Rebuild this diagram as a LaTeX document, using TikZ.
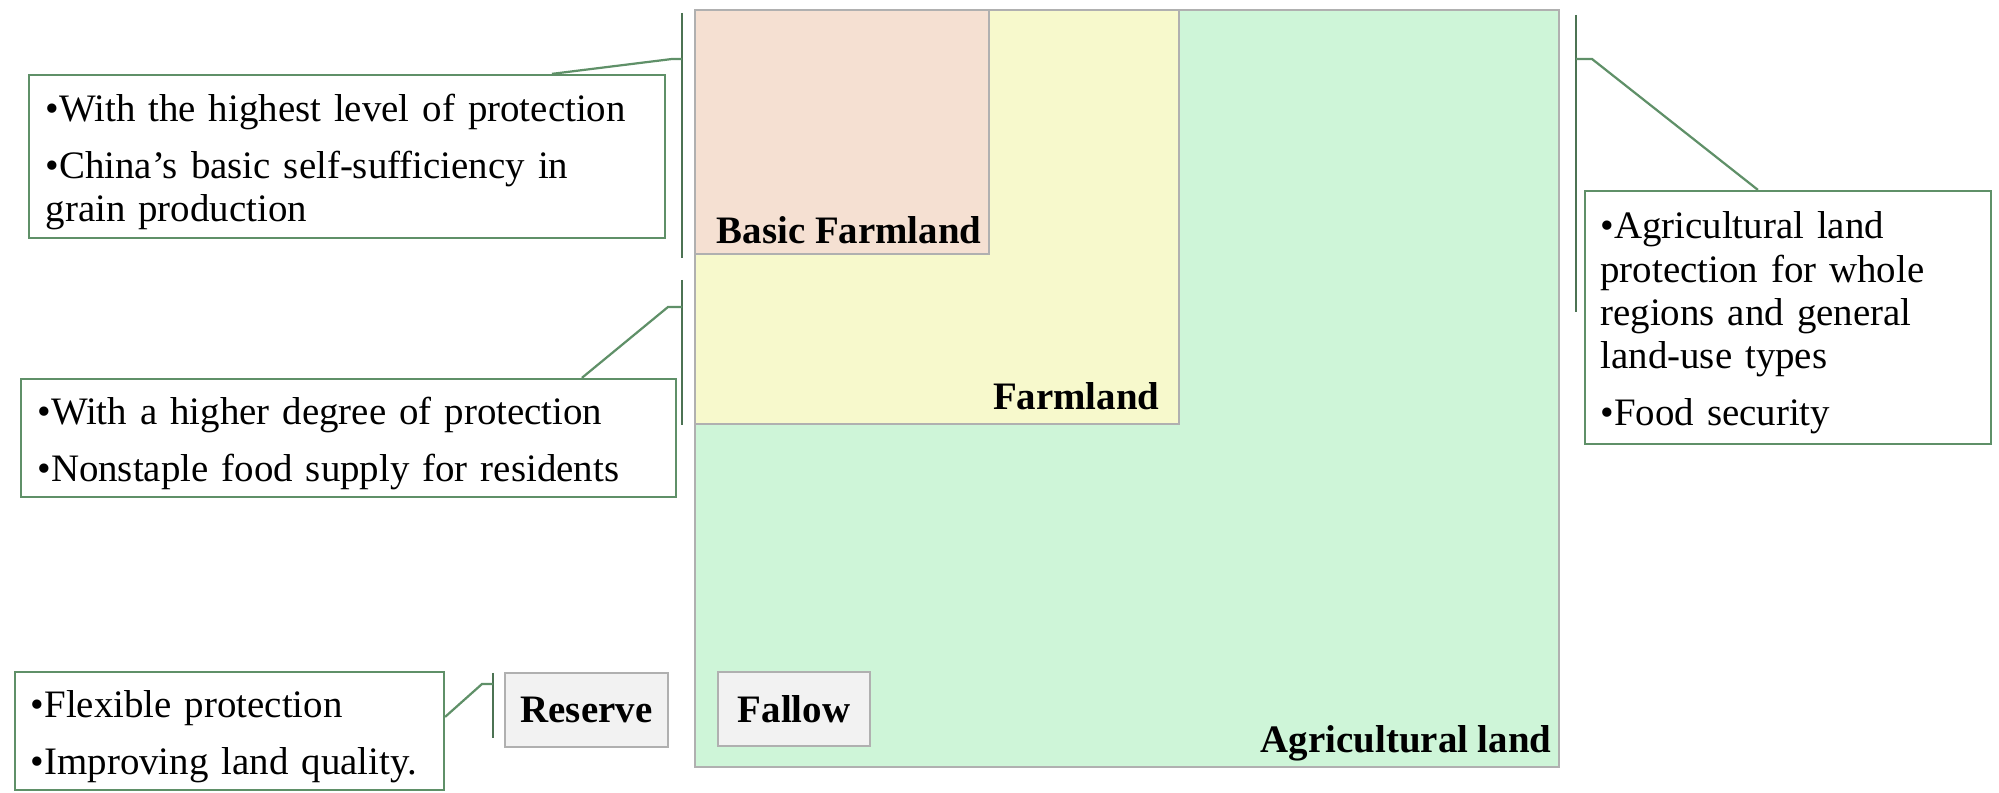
\documentclass[tikz,border=0pt]{standalone}
\usepackage{fontspec}
\setmainfont{Liberation Serif}
\usetikzlibrary{calc}
\definecolor{agfill}{HTML}{CEF5D8}
\definecolor{farmfill}{HTML}{F7F9CC}
\definecolor{basicfill}{HTML}{F5E0D2}
\definecolor{regborder}{HTML}{B0B0B0}
\definecolor{callgreen}{HTML}{5F9068}
\definecolor{greyfill}{HTML}{F2F2F2}
\tikzset{
  region/.style={draw=regborder, line width=0.8pt, inner sep=0pt},
  lbl/.style={font=\fontsize{14}{16}\selectfont\bfseries, inner sep=0pt},
  greybox/.style={draw=regborder, fill=greyfill, line width=0.8pt, font=\fontsize{14}{16}\selectfont\bfseries},
  callout/.style={draw=callgreen, fill=white, line width=0.8pt, inner sep=0pt},
  callouttext/.style={align=left, inner sep=0pt, yshift=-2pt,
    font=\fontsize{14}{15.6}\selectfont},
  conn/.style={draw=callgreen, line width=0.8pt},
  brk/.style={draw=callgreen!80!black, line width=0.8pt},
}
\begin{document}
\begin{tikzpicture}[x=0.36pt,y=-0.36pt]
\useasboundingbox (0,0) rectangle (1999,793);
% regions
\node[region, fill=agfill, minimum width=311.04pt, minimum height=272.52pt] (ag) at (1127,388.5) {};
\node[region, fill=farmfill, minimum width=174.24pt, minimum height=149.04pt] (farm) at (937,217) {};
\node[region, fill=basicfill, minimum width=105.84pt, minimum height=87.84pt] (basic) at (842,132) {};
\node[lbl, anchor=base east] (basiclbl) at (982,244) {Basic Farmland};
\node[lbl, anchor=base east] (farmlbl) at (1160,410) {Farmland};
\node[lbl, anchor=base east] (aglbl) at (1552,752) {Agricultural land};
\node[greybox, minimum width=54.72pt, minimum height=26.64pt] (fallow) at (794,709) {Fallow};
\node[greybox, minimum width=58.68pt, minimum height=26.64pt] (reserve) at (586.5,710) {Reserve};
% callouts
\node[callout, minimum width=228.96pt, minimum height=58.68pt] (box1) at (347,156.5) {};
\node[callouttext, text width=217pt] (box1txt) at (box1.center)
  {\textbullet With the highest level of protection\\[5pt]
   \textbullet China’s basic self-sufficiency in\\ grain production};
\node[callout, minimum width=235.8pt, minimum height=42.48pt] (box2) at (348.5,438) {};
\node[callouttext, text width=224pt] (box2txt) at (box2.center)
  {\textbullet With a higher degree of protection\\[5pt]
   \textbullet Nonstaple food supply for residents};
\node[callout, minimum width=154.44pt, minimum height=42.48pt] (box3) at (229.5,731) {};
\node[callouttext, text width=143pt] (box3txt) at (box3.center)
  {\textbullet Flexible protection\\[5pt]
   \textbullet Improving land quality.};
\node[callout, minimum width=146.16pt, minimum height=91.08pt] (box4) at (1788,317.5) {};
\node[callouttext, text width=135pt] (box4txt) at (box4.center)
  {\textbullet Agricultural land\\ protection for whole\\ regions and general\\ land-use types\\[5pt]
   \textbullet Food security};
% brackets
\coordinate (b1t) at (682,13); \coordinate (b1b) at (682,258);
\coordinate (b2t) at (682,280); \coordinate (b2b) at (682,425);
\coordinate (b3t) at (493,673); \coordinate (b3b) at (493,738);
\coordinate (b4t) at (1576,15); \coordinate (b4b) at (1576,312);
\draw[brk] (b1t) -- (b1b);
\draw[brk] (b2t) -- (b2b);
\draw[brk] (b3t) -- (b3b);
\draw[brk] (b4t) -- (b4b);
% connectors
\draw[conn] ($(box1.north west)+(524,0)$) -- (672,59) -- (b1t |- 0,59);
\draw[conn] ($(box2.north west)+(562,0)$) -- (668,307) -- (b2t |- 0,307);
\draw[conn] ($(box3.north east)+(0,46)$) -- (482,684) -- (b3t |- 0,684);
\draw[conn] ($(box4.north west)+(174,0)$) -- (1592,59) -- (b4t |- 0,59);
\end{tikzpicture}
\end{document}
